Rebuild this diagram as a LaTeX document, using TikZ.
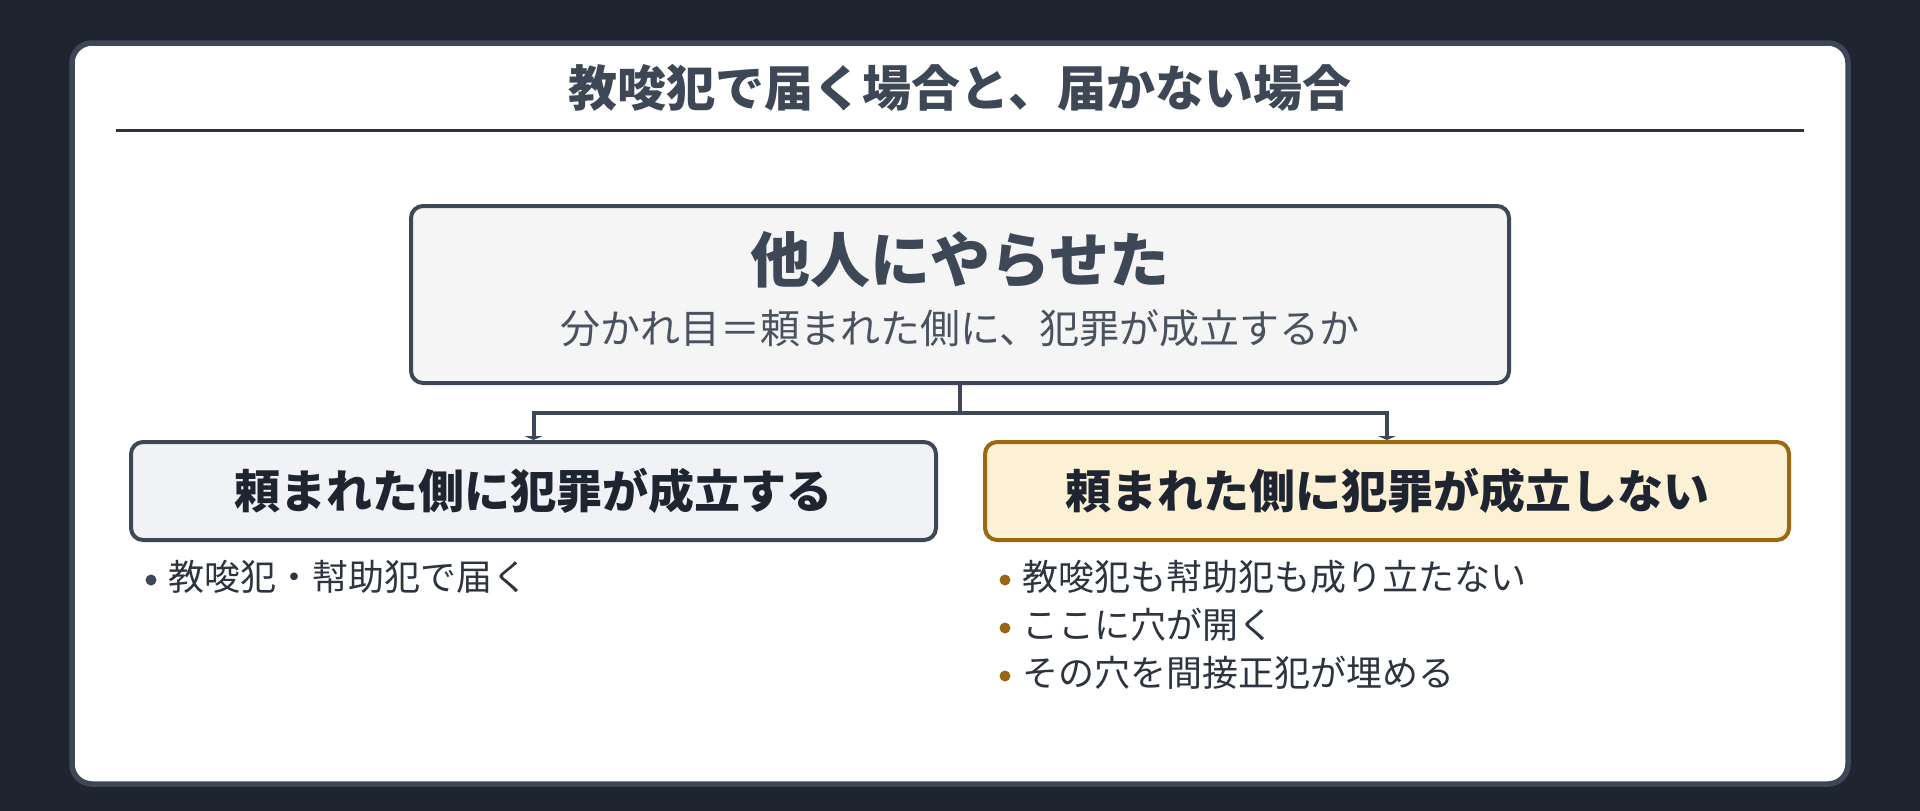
\documentclass[tikz,border=0pt]{standalone}
\usepackage{fontspec}
\setmainfont{Noto Sans CJK JP}
\usetikzlibrary{arrows.meta}
\definecolor{bgdark}{HTML}{1E2530}
\definecolor{slate}{HTML}{3D4756}
\definecolor{ruleclr}{HTML}{2D3440}
\definecolor{topfill}{HTML}{F5F5F5}
\definecolor{leftfill}{HTML}{F0F2F6}
\definecolor{rightfill}{HTML}{FCF0D5}
\definecolor{brownclr}{HTML}{9A6811}
\definecolor{inkdark}{HTML}{1E2530}
\definecolor{subclr}{HTML}{4A5260}
\pgfdeclarelayer{back}
\pgfdeclarelayer{mid}
\pgfsetlayers{back,mid,main}
\tikzset{
  boxbase/.style={rectangle, rounded corners=12pt, line width=4pt, inner sep=0pt},
  topbox/.style={boxbase, draw=slate, fill=topfill, minimum width=1098pt, minimum height=177pt},
  leftbox/.style={boxbase, draw=slate, fill=leftfill, minimum width=805pt, minimum height=98pt,
    font=\fontsize{46}{55}\selectfont\bfseries, text=inkdark},
  rightbox/.style={boxbase, draw=brownclr, fill=rightfill, minimum width=804pt, minimum height=98pt,
    font=\fontsize{46}{55}\selectfont\bfseries, text=inkdark},
  conn/.style={draw=slate, line width=4pt, -{Triangle[length=4pt,width=18pt]}},
  bullettext/.style={anchor=west, inner sep=0pt, font=\fontsize{36}{43}\selectfont, text=ruleclr},
}
\begin{document}
\begin{tikzpicture}[x=1pt,y=-1pt]
\useasboundingbox (0,0) rectangle (1920,811);
\begin{pgfonlayer}{back}
  \fill[bgdark] (0,0) rectangle (1920,811);
  \draw[draw=slate, fill=white, line width=5.5pt, rounded corners=20pt] (72,43) rectangle (1848,784);
  \draw[ruleclr, line width=3pt] (116,130) -- (1804,130);
\end{pgfonlayer}
\node[font=\fontsize{49}{58}\selectfont\bfseries, text=slate] (title) at (960,88) {教唆犯で届く場合と、届かない場合};
\node[topbox] (top) at (960,294.5) {};
\node[font=\fontsize{60}{70}\selectfont\bfseries, text=slate] (toptitle) at (960,260) {他人にやらせた};
\node[font=\fontsize{40}{48}\selectfont, text=subclr] (topsub) at (960,328) {分かれ目＝頼まれた側に、犯罪が成立するか};
\node[leftbox] (left) at (533.5,491) {頼まれた側に犯罪が成立する};
\node[rightbox] (right) at (1387,491) {頼まれた側に犯罪が成立しない};
\coordinate (split) at (960,413);
\begin{pgfonlayer}{mid}
  \draw[conn] (top.south) -- (split) -| (left.north);
  \draw[conn] (split) -| (right.north);
\end{pgfonlayer}
\fill[slate] (151,580) circle (5.5pt);
\node[bullettext] (l1) at (168,577) {教唆犯・幇助犯で届く};
\fill[brownclr] (1005,580) circle (5.5pt);
\node[bullettext] (r1) at (1022,577) {教唆犯も幇助犯も成り立たない};
\fill[brownclr] (1005,628) circle (5.5pt);
\node[bullettext] (r2) at (1022,625) {ここに穴が開く};
\fill[brownclr] (1005,676) circle (5.5pt);
\node[bullettext] (r3) at (1022,673) {その穴を間接正犯が埋める};
\end{tikzpicture}
\end{document}
